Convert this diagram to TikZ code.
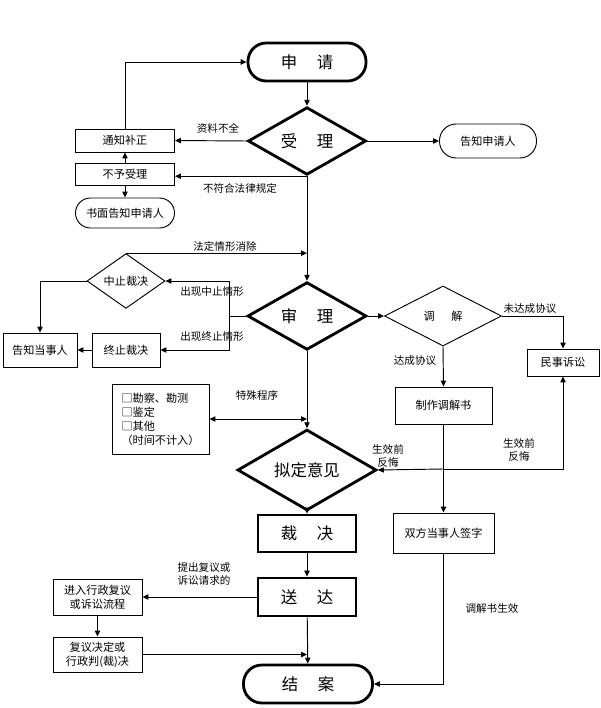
\documentclass[tikz,border=0pt]{standalone}
\usepackage{fontspec}
\setmainfont{Noto Sans CJK SC}
\usetikzlibrary{shapes.geometric,arrows.meta}

\tikzset{
  box/.style={draw, line width=0.8pt, inner sep=1pt, font=\fontsize{9.5}{12}\selectfont},
  bigbox/.style={draw, line width=2.4pt, inner sep=1pt, font=\fontsize{14}{16}\selectfont},
  term/.style={bigbox, rounded corners=0.55cm},
  smallterm/.style={box, rounded corners=0.45cm},
  dia/.style={diamond, draw, line width=0.8pt, inner sep=0pt, font=\fontsize{9.5}{12}\selectfont},
  bigdia/.style={diamond, draw, line width=2.4pt, inner sep=0pt, font=\fontsize{14}{16}\selectfont},
  lab/.style={inner sep=0pt, font=\fontsize{9}{11}\selectfont, align=center},
  arr/.style={line width=0.8pt, -{Triangle[length=5pt,width=4.5pt]}},
  ln/.style={line width=0.8pt}
}

\begin{document}
\begin{tikzpicture}[x=0.03cm,y=-0.03cm]
%\draw [help lines, step=50] (0,0) grid (601,708);
\useasboundingbox (0,0) rectangle (601,708);

% main column
\node [term, minimum width=3.54cm, minimum height=1.14cm] (sq) at (307,62) {申\hspace{1.2em}请};
\node [bigdia, minimum width=3.54cm, minimum height=2.01cm] (sl) at (307,141) {受\hspace{1.2em}理};
\node [bigdia, minimum width=3.57cm, minimum height=1.77cm] (sh) at (307,316) {审\hspace{1.2em}理};
\node [bigdia, minimum width=4.17cm, minimum height=1.5cm] (nd) at (307,470) {拟定意见};
\node [bigbox, minimum width=2.94cm, minimum height=1.11cm] (cj) at (307,533.5) {裁\hspace{1.2em}决};
\node [bigbox, minimum width=2.94cm, minimum height=1.14cm] (sd) at (307,597) {送\hspace{1.2em}达};
\node [term, minimum width=3.87cm, minimum height=1.14cm] (ja) at (308,684) {结\hspace{1.2em}案};

% left side
\node [box, minimum width=2.97cm, minimum height=0.69cm] (tzbz) at (125,140.5) {通知补正};
\node [box, minimum width=2.97cm, minimum height=0.66cm] (bysl) at (125,174) {不予受理};
\node [smallterm, minimum width=2.97cm, minimum height=0.9cm] (smgz) at (125,213) {书面告知申请人};
\node [dia, minimum width=2.34cm, minimum height=1.5cm] (zz) at (126,281) {中止裁决};
\node [box, minimum width=2.04cm, minimum height=1.02cm] (zzcj) at (126,350) {终止裁决};
\node [box, minimum width=2.22cm, minimum height=1.02cm] (gzdsr) at (40,350) {告知当事人};
\node [box, minimum width=2.91cm, minimum height=2.1cm, align=left] (kc) at (160.5,419)
  {□勘察、勘测\\□鉴定\\□其他\\（时间不计入）};
\node [box, minimum width=2.67cm, minimum height=1.08cm, align=center] (jr) at (97.5,597) {进入行政复议\\或诉讼流程};
\node [box, minimum width=2.67cm, minimum height=1.05cm, align=center] (fy) at (97.5,654.5) {复议决定或\\行政判(裁)决};

% right side
\node [smallterm, rounded corners=0.5cm, minimum width=2.91cm, minimum height=1.02cm] (gzsqr) at (488,141) {告知申请人};
\node [dia, minimum width=3.51cm, minimum height=1.8cm] (tj) at (443,316) {调\hspace{1.5em}解};
\node [box, minimum width=2.16cm, minimum height=0.81cm] (mshss) at (563,362.5) {民事诉讼};
\node [box, minimum width=2.91cm, minimum height=1.11cm] (zztj) at (443.5,405.5) {制作调解书};
\node [box, minimum width=3.03cm, minimum height=1.2cm] (sfqz) at (443.5,533) {双方当事人签字};

% labels
\node [lab] (lzl) at (218,128) {资料不全};
\node [lab] (lbf) at (240,188) {不符合法律规定};
\node [lab] (lfd) at (225,246) {法定情形消除};
\node [lab] (lzz) at (212,292) {出现中止情形};
\node [lab] (lzzz) at (212,337) {出现终止情形};
\node [lab] (lwd) at (530,309) {未达成协议};
\node [lab] (ldc) at (415,361) {达成协议};
\node [lab] (lsx1) at (388,456) {生效前\\反悔};
\node [lab] (lsx2) at (519,450) {生效前\\反悔};
\node [lab] (ltz) at (257,395) {特殊程序};
\node [lab] (ltc) at (204,574) {提出复议或\\诉讼请求的};
\node [lab] (ltjs) at (492,608) {调解书生效};

% helper points
\coordinate (fork) at (229,316);
\coordinate (rg) at (443.5,469);

% connectors
\draw [arr] (sq) -- (sl);
\draw [arr] (sl.west) -- (tzbz.east);
\draw [arr] (sl.south) -- (sl.south -| bysl.east);
\draw [arr] (bysl) -- (tzbz);
\draw [arr] (bysl) -- (smgz);
\draw [arr] (tzbz.north) |- (sq.west);
\draw [arr] (sl.east) -- (gzsqr.west);
\draw [arr] (sl.south) -- (sh.north);
\draw [arr] (zz.north) -- (zz.north -| sh.north);
\draw [ln] (sh.west) -- (fork);
\draw [arr] (fork) |- (zz.east);
\draw [arr] (fork) |- (zzcj.east);
\draw [arr] (zz.west) -| (gzdsr.north);
\draw [arr] (zzcj) -- (gzdsr);
\draw [arr] (sh.east) -- (tj.west);
\draw [arr] (tj.east) -| (mshss.north);
\draw [arr] (tj.south) -- (zztj.north);
\draw [arr] (zztj) -- (sfqz);
\draw [arr] (rg) -- (nd.east);
\draw [arr] (rg) -| (mshss.south);
\draw [arr] (sh.south) -- (nd.north);
\draw [{Triangle[length=5pt,width=4.5pt]}-{Triangle[length=5pt,width=4.5pt]}, line width=0.8pt] (kc.east) -- (kc.east -| sh.south);
\draw [arr] (nd.south) -- (cj.north);
\draw [arr] (cj) -- (sd);
\draw [arr] (sd.west) -- (jr.east);
\draw [arr] (jr) -- (fy);
\draw [arr] (fy.east) -- (fy.east -| sh.south);
\draw [arr] (sd) -- (ja);
\draw [arr] (sfqz.south) |- (ja.east);
\end{tikzpicture}
\end{document}
